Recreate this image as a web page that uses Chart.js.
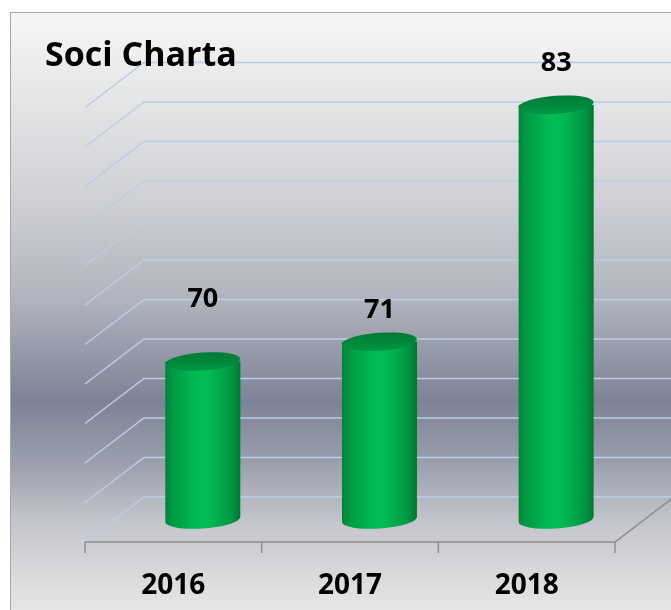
<!DOCTYPE html>
<html>
<head>
<meta charset="utf-8">
<script src="https://cdn.jsdelivr.net/npm/chart.js@4.4.1/dist/chart.umd.min.js"></script>
<style>
html, body { margin: 0; padding: 0; background: #fff; overflow: hidden; }
#frame {
    position: absolute; left: 10px; top: 12px; width: 700px; height: 640px;
    border: 1px solid #a6a6a6;
    background: linear-gradient(to bottom,
        #f6f6f6 0px, #e5e5e7 88px, #cfd0d5 188px, #b0b3bd 288px,
        #7d8396 388px, #9a9eac 448px, #c3c5cc 508px, #dcdcdd 568px, #e6e6e6 598px);
}
#myChart { position: absolute; left: 0; top: 0; }
</style>
</head>
<body>
<div id="frame"></div>
<canvas id="myChart" width="671" height="610"></canvas>
<script>
const years = ['2016', '2017', '2018'];
const soci = [70, 71, 83];
const axisMin = 62;
const axisMax = 84;
const axisStep = 2;
const chartTitle = 'Soci Charta';

// depth offset between the middle plane and the back wall
const DX = 29.5, DY = 22.5;
const GRID = '#bccde3';
const EDGE = '#8e8e8e';

function drawCylinder(ctx, bar, base) {
    const rx = bar.width / 2, ry = 9, rot = -0.07;
    const left = bar.x - rx, right = bar.x + rx;
    const g = ctx.createLinearGradient(left, 0, right, 0);
    g.addColorStop(0, '#00843a');
    g.addColorStop(0.12, '#009d45');
    g.addColorStop(0.45, '#00bd56');
    g.addColorStop(0.6, '#00b852');
    g.addColorStop(0.88, '#009643');
    g.addColorStop(1, '#007732');
    ctx.beginPath();
    ctx.moveTo(left, bar.y);
    ctx.lineTo(left, base);
    ctx.ellipse(bar.x, base, rx, ry, rot, Math.PI, 0, true);
    ctx.lineTo(right, bar.y);
    ctx.closePath();
    ctx.fillStyle = g;
    ctx.fill();

    const t = ctx.createLinearGradient(0, bar.y - ry, 0, bar.y + ry);
    t.addColorStop(0, '#007a35');
    t.addColorStop(1, '#009544');
    ctx.beginPath();
    ctx.ellipse(bar.x, bar.y, rx, ry, rot, 0, Math.PI * 2);
    ctx.fillStyle = t;
    ctx.fill();
}

const scene3d = {
    id: 'scene3d',
    beforeDatasetsDraw(chart) {
        const ctx = chart.ctx;
        const y = chart.scales.y, x = chart.scales.x;
        const a = chart.chartArea;
        ctx.save();
        ctx.lineWidth = 1.5;
        ctx.strokeStyle = GRID;
        y.ticks.forEach(t => {
            const py = y.getPixelForValue(t.value);
            ctx.beginPath();
            ctx.moveTo(a.left - DX, py + DY);
            ctx.lineTo(a.left + DX, py - DY);
            ctx.lineTo(a.right + DX + 40, py - DY);
            ctx.stroke();
        });
        // floor front edge, right edge and ticks
        const fy = y.getPixelForValue(axisMin);
        ctx.strokeStyle = EDGE;
        ctx.beginPath();
        ctx.moveTo(a.left - DX, fy + DY);
        ctx.lineTo(a.right - DX, fy + DY);
        ctx.lineTo(a.right + DX, fy - DY);
        ctx.stroke();
        const half = (x.getPixelForValue(1) - x.getPixelForValue(0)) / 2;
        for (let i = 0; i <= years.length; i++) {
            const px = x.getPixelForValue(i) - half - DX;
            ctx.beginPath();
            ctx.moveTo(px, fy + DY);
            ctx.lineTo(px, fy + DY + 11);
            ctx.stroke();
        }
        ctx.restore();
    },
    afterDatasetsDraw(chart) {
        const ctx = chart.ctx;
        const base = chart.scales.y.getPixelForValue(axisMin);
        ctx.save();
        chart.getDatasetMeta(0).data.forEach(bar => drawCylinder(ctx, bar, base));
        ctx.restore();
    },
    afterDraw(chart, args, opts) {
        const ctx = chart.ctx;
        const x = chart.scales.x;
        ctx.save();
        ctx.fillStyle = '#000';
        ctx.font = 'bold 34px "Open Sans"';
        ctx.textAlign = 'left';
        ctx.textBaseline = 'alphabetic';
        ctx.fillText(chartTitle, 45, 66);

        ctx.font = 'bold 28px "Open Sans"';
        ctx.textAlign = 'center';
        years.forEach((lbl, i) => {
            ctx.fillText(lbl, x.getPixelForValue(i) - DX, 594);
        });
        ctx.font = 'bold 27px "Open Sans"';
        ctx.textBaseline = 'middle';
        chart.getDatasetMeta(0).data.forEach((bar, i) => {
            ctx.fillText(String(soci[i]), bar.x, bar.y - opts.labelLift[i]);
        });
        ctx.restore();
    }
};

let chart;

function createChart() {
    chart = new Chart(document.getElementById('myChart'), {
        type: 'bar',
        data: {
            labels: years,
            datasets: [{
                label: chartTitle,
                data: soci,
                base: axisMin,
                backgroundColor: 'rgba(0,0,0,0)',
                borderWidth: 0,
                barPercentage: 0.425,
                categoryPercentage: 1
            }]
        },
        options: {
            responsive: false,
            animation: false,
            layout: { padding: { left: 114.5, right: 26.5, top: 85, bottom: 90.5 } },
            plugins: {
                legend: { display: false },
                tooltip: { enabled: false },
                scene3d: { labelLift: [62, 31, 41] }
            },
            scales: {
                x: { display: false },
                y: {
                    display: false,
                    min: axisMin,
                    max: axisMax,
                    ticks: { stepSize: axisStep }
                }
            }
        },
        plugins: [scene3d]
    });
}

createChart();
</script>
</body>
</html>
